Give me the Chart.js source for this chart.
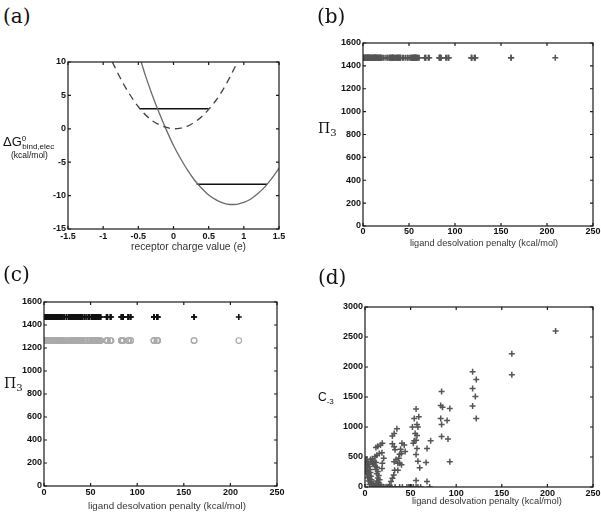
<!DOCTYPE html>
<html>
<head>
<meta charset="utf-8">
<script src="https://cdn.jsdelivr.net/npm/chart.js@4.4.0/dist/chart.umd.min.js"></script>
<style>
  html, body { margin: 0; padding: 0; background: #fff; }
  #fig { position: relative; width: 601px; height: 515px; overflow: hidden;
         font-family: "Liberation Sans", Arial, sans-serif; color: #111; }
  canvas { position: absolute; }
  .panel { position: absolute; font-family: "DejaVu Serif", serif; font-size: 20px; line-height: 1; color: #111; }
  .xt { position: absolute; font-size: 9px; line-height: 1; color: #333; white-space: nowrap; }
  .yt { position: absolute; line-height: 1; white-space: nowrap; color: #111; }
  .sub, .sup { position: relative; font-size: 8px; }
  .serif { font-family: "DejaVu Serif", serif; }
</style>
</head>
<body>
<div id="fig">
  <canvas id="cA" width="300" height="215" style="left:0;top:40px"></canvas>
  <canvas id="cB" width="310" height="235" style="left:300px;top:20px"></canvas>
  <canvas id="cC" width="300" height="235" style="left:0;top:280px"></canvas>
  <canvas id="cD" width="310" height="235" style="left:300px;top:280px"></canvas>

  <div class="panel" style="left:3px;top:6px">(a)</div>
  <div class="panel" style="left:317px;top:6px">(b)</div>
  <div class="panel" style="left:3px;top:264px">(c)</div>
  <div class="panel" style="left:318px;top:267px">(d)</div>

  <div class="xt" style="left:131px;top:242px;font-size:10.3px">receptor charge value (e)</div>
  <div class="xt" style="left:410px;top:239px;font-size:9.2px">ligand desolvation penalty (kcal/mol)</div>
  <div class="xt" style="left:88px;top:501px;font-size:9.8px">ligand desolvation penalty (kcal/mol)</div>
  <div class="xt" style="left:412px;top:497px;font-size:9.3px">ligand desolvation penalty (kcal/mol)</div>

  <div class="yt" style="left:3px;top:135px;font-size:13px">&Delta;G<span class="sup" style="top:-5px">0</span><span class="sub" style="top:3px;left:-4px">bind,elec</span></div>
  <div class="yt" style="left:11px;top:151px;font-size:8.5px">(kcal/mol)</div>
  <div class="yt serif" style="left:318px;top:121px;font-size:14px">&Pi;<span class="sub" style="top:3px;font-size:10px">3</span></div>
  <div class="yt serif" style="left:4px;top:376px;font-size:14px">&Pi;<span class="sub" style="top:3px;font-size:10px">3</span></div>
  <div class="yt" style="left:318px;top:391px;font-size:12px">C<span class="sub" style="top:3px">-3</span></div>
</div>

<script>
// (a) binding free energy vs receptor charge
var chargeDashed = [-0.87, -0.8, -0.7, -0.6, -0.5, -0.4, -0.3, -0.2, -0.1, 0, 0.1, 0.2, 0.3, 0.4, 0.5, 0.6, 0.7, 0.8, 0.9, 0.91];
var energyDashed = [10, 8.5, 6.5, 4.8, 3.3, 2.1, 1.2, 0.6, 0.2, 0, 0.1, 0.4, 1.0, 1.8, 2.9, 4.2, 5.8, 7.7, 9.8, 10];
var chargeSolid = [-0.46, -0.4, -0.3, -0.2, -0.1, 0, 0.1, 0.2, 0.3, 0.4, 0.5, 0.6, 0.7, 0.8, 0.9, 1.0, 1.1, 1.2, 1.3, 1.4, 1.5];
var energySolid = [10, 8.0, 5.0, 2.3, -0.2, -2.5, -4.45, -6.2, -7.7, -8.9, -9.9, -10.6, -11.1, -11.33, -11.3, -11.0, -10.5, -9.7, -8.7, -7.4, -5.9];
var levelUpperX = [-0.48, 0.5], levelUpperY = [3, 3];
var levelLowerX = [0.33, 1.33], levelLowerY = [-8.3, -8.3];

// (b)-(d) ligand desolvation penalty (kcal/mol) and C-3 values
var penalty = [
  209, 161, 161, 118, 122, 118, 121, 118, 122,
  84, 83, 85, 93, 83, 90, 84, 84, 91, 93,
  56, 59, 54, 57, 58, 52, 55, 57, 54, 56, 53, 57, 68, 72, 56, 58, 67, 60, 56, 68,
  43, 44, 35, 32, 30, 30, 32, 33, 40.5, 39, 38, 40, 34, 37, 32, 36, 38, 40, 32.5, 36, 31.5, 30, 28.5, 27,
  19, 17, 14, 12, 18.6, 15.7, 13, 11, 20.5, 19, 18.6,
  0.5, 1, 2, 3, 1.5, 4, 2.5, 5, 1, 3.5, 5.5, 2, 4.5, 6, 3, 5, 6.5, 4, 6, 7, 5, 7.5, 8,
  7, 8.5, 10, 9, 12, 6, 8,
  11, 13, 12, 14, 13, 15, 14, 16, 13, 15, 17, 12, 14, 16, 9, 10, 11,
  18, 20, 22, 24, 26, 29, 33, 38, 41, 46, 48, 49, 51, 53, 56, 58, 61, 71
];
var c3 = [
  2600, 2220, 1870, 1920, 1790, 1640, 1510, 1350, 1140,
  1590, 1360, 1330, 1310, 1140, 1110, 1040, 840, 800, 420,
  1300, 1170, 1140, 1040, 1000, 1000, 890, 860, 770, 780, 730, 640, 640, 770, 540, 430, 410, 320, 110, 90,
  700, 590, 970, 890, 850, 720, 670, 620, 730, 630, 545, 560, 460, 480, 420, 395, 395, 370, 280, 280, 200, 145, 90, 30,
  730, 700, 680, 660, 570, 560, 530, 505, 480, 395, 310,
  440, 400, 460, 420, 360, 380, 320, 340, 280, 260, 290, 220, 200, 240, 160, 140, 180, 100, 80, 120, 40, 50, 20,
  420, 400, 430, 380, 410, 460, 470,
  350, 330, 290, 260, 220, 190, 150, 120, 100, 70, 40, 50, 20, 10, 60, 30, 10,
  5, 0, 0, 5, 0, 0, 0, 0, 0, 0, 0, 0, 0, 0, 0, 0, 0, 0
];
var PI3_PLUS = 1470;    // Pi_3 of the "+" series
var PI3_CIRCLE = 1265;  // Pi_3 of the "o" series in (c)

var tickFont = { family: '"Liberation Sans", Arial, sans-serif', size: 9, weight: 'bold' };

function pts(xs, ys) {
  return xs.map(function (x, i) { return { x: x, y: ys[i] }; });
}
function flat(xs, v) {
  return xs.map(function (x) { return { x: x, y: v }; });
}

// matlab style box with ticks pointing inwards on all four sides
var boxPlugin = {
  id: 'box',
  afterDatasetsDraw: function (chart) {
    var ctx = chart.ctx, a = chart.chartArea, sx = chart.scales.x, sy = chart.scales.y;
    ctx.save();
    ctx.strokeStyle = '#1a1a1a';
    ctx.lineWidth = 1.2;
    ctx.strokeRect(a.left, a.top, a.right - a.left, a.bottom - a.top);
    ctx.beginPath();
    sx.ticks.forEach(function (t, i) {
      var p = sx.getPixelForTick(i);
      ctx.moveTo(p, a.bottom); ctx.lineTo(p, a.bottom - 3);
      ctx.moveTo(p, a.top); ctx.lineTo(p, a.top + 3);
    });
    sy.ticks.forEach(function (t, i) {
      var p = sy.getPixelForTick(i);
      ctx.moveTo(a.left, p); ctx.lineTo(a.left + 3, p);
      ctx.moveTo(a.right, p); ctx.lineTo(a.right - 3, p);
    });
    ctx.stroke();
    ctx.restore();
  }
};

function scales(xr, yr, yAxisWidth, xAxisHeight, xPad) {
  function tk(step, pad) {
    return { color: '#111', font: tickFont, padding: pad, stepSize: step, autoSkip: false, maxRotation: 0,
             callback: function (v) { return String(+v.toFixed(2)); } };
  }
  return {
    x: { type: 'linear', min: xr[0], max: xr[1], ticks: tk(xr[2], xPad),
         grid: { display: false, drawTicks: false }, border: { display: false },
         afterFit: function (s) { s.height = xAxisHeight; } },
    y: { type: 'linear', min: yr[0], max: yr[1], ticks: tk(yr[2], 2),
         grid: { display: false, drawTicks: false }, border: { display: false },
         afterFit: function (s) { s.width = yAxisWidth; } }
  };
}

function baseOptions(sc, pad) {
  return {
    responsive: false,
    animation: false,
    devicePixelRatio: 1,
    layout: { padding: pad },
    plugins: { legend: { display: false }, tooltip: { enabled: false } },
    scales: sc
  };
}

// (a)
new Chart(document.getElementById('cA'), {
  type: 'line',
  data: {
    datasets: [
      { data: pts(chargeDashed, energyDashed), borderColor: '#444', borderWidth: 1.3, borderDash: [7, 5],
        pointRadius: 0, cubicInterpolationMode: 'monotone' },
      { data: pts(chargeSolid, energySolid), borderColor: '#6a6a6a', borderWidth: 1.3,
        pointRadius: 0, cubicInterpolationMode: 'monotone' },
      { data: pts(levelUpperX, levelUpperY), borderColor: '#111', borderWidth: 1.3, pointRadius: 0 },
      { data: pts(levelLowerX, levelLowerY), borderColor: '#111', borderWidth: 1.3, pointRadius: 0 }
    ]
  },
  options: baseOptions(scales([-1.5, 1.5, 0.5], [-15, 10, 5], 68, 26, 2), { top: 22, right: 21, left: 0, bottom: 0 }),
  plugins: [boxPlugin]
});

// (b)
new Chart(document.getElementById('cB'), {
  type: 'scatter',
  data: {
    datasets: [
      { data: flat(penalty, PI3_PLUS), pointStyle: 'cross', pointRadius: 3, borderWidth: 1.5, borderColor: '#555' }
    ]
  },
  options: baseOptions(scales([0, 250, 50], [0, 1600, 200], 63, 29, 0.5), { top: 23, right: 17, left: 0, bottom: 0 }),
  plugins: [boxPlugin]
});

// (c)
new Chart(document.getElementById('cC'), {
  type: 'scatter',
  data: {
    datasets: [
      { data: flat(penalty, PI3_PLUS), pointStyle: 'cross', pointRadius: 3, borderWidth: 1.6, borderColor: '#111' },
      { data: flat(penalty, PI3_CIRCLE), pointStyle: 'circle', pointRadius: 2.8, borderWidth: 1.2,
        borderColor: '#aaa', backgroundColor: 'rgba(0,0,0,0)' }
    ]
  },
  options: baseOptions(scales([0, 250, 50], [0, 1600, 200], 44, 29, 1.3), { top: 22, right: 23, left: 0, bottom: 0 }),
  plugins: [boxPlugin]
});

// (d)
new Chart(document.getElementById('cD'), {
  type: 'scatter',
  data: {
    datasets: [
      { data: pts(penalty, c3), pointStyle: 'cross', pointRadius: 3, borderWidth: 1.5, borderColor: '#555' }
    ]
  },
  options: baseOptions(scales([0, 250, 50], [0, 3000, 500], 65, 28, 1), { top: 27, right: 17, left: 0, bottom: 0 }),
  plugins: [boxPlugin]
});
</script>
</body>
</html>
